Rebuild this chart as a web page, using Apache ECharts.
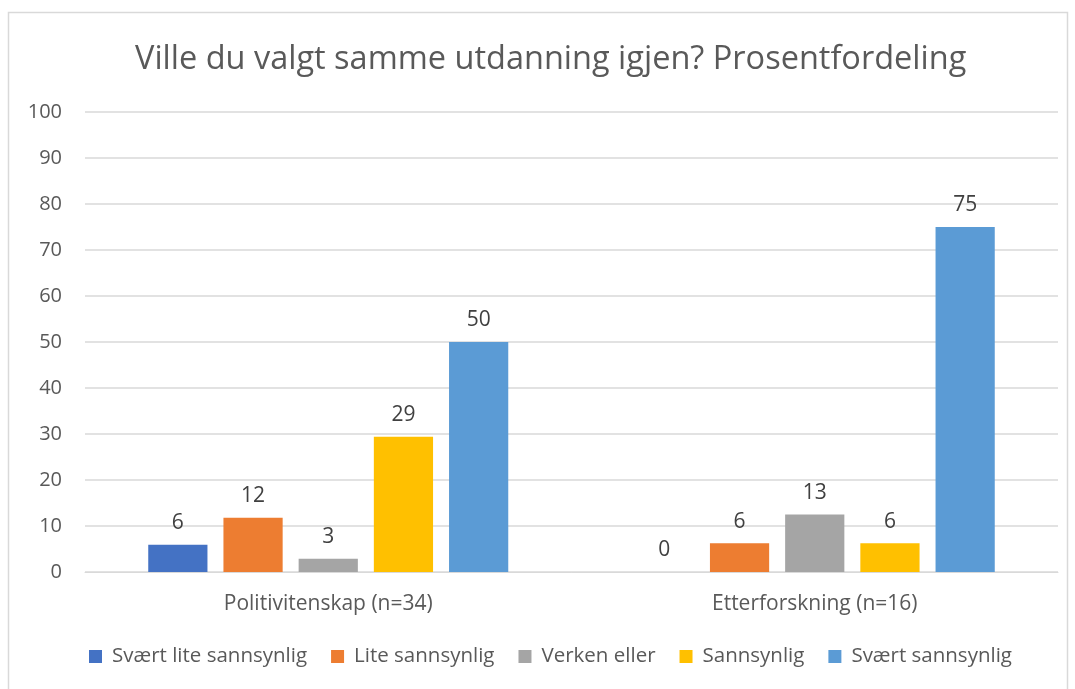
<!DOCTYPE html>
<html>
<head>
<meta charset="utf-8">
<script src="https://cdn.jsdelivr.net/npm/echarts@6/dist/echarts.min.js"></script>
<style>
  html, body { margin: 0; padding: 0; background: #fff; }
  #chart { width: 1075px; height: 689px; }
</style>
</head>
<body>
<div id="chart"></div>
<script>
// data
var categories = ['Politivitenskap (n=34)', 'Etterforskning (n=16)'];
var seriesNames = ['Svært lite sannsynlig', 'Lite sannsynlig', 'Verken eller', 'Sannsynlig', 'Svært sannsynlig'];
var svaertLite = [5.9, 0];
var lite = [11.8, 6.25];
var verken = [2.9, 12.5];
var sannsynlig = [29.4, 6.25];
var svaertSann = [50, 75];
var colors = ['#4472C4', '#ED7D31', '#A5A5A5', '#FFC000', '#5B9BD5'];

var fontFam = '"Open Sans", "Noto Sans", sans-serif';
var values = [svaertLite, lite, verken, sannsynlig, svaertSann];

var series = seriesNames.map(function (name, i) {
  return {
    name: name,
    type: 'bar',
    data: values[i],
    barGap: '27%',
    barCategoryGap: '26%',
    itemStyle: { color: colors[i] },
    label: {
      show: true,
      position: 'top',
      distance: 11,
      color: '#404040',
      fontSize: 21,
      fontFamily: fontFam,
      formatter: function (p) { return Math.round(p.value); }
    }
  };
});

var chart = echarts.init(document.getElementById('chart'));
chart.setOption({
  animation: false,
  color: colors,
  title: {
    text: 'Ville du valgt samme utdanning igjen? Prosentfordeling',
    left: 130,
    top: 38,
    textStyle: { color: '#595959', fontSize: 32.5, fontWeight: 'normal', fontFamily: fontFam }
  },
  legend: {
    bottom: 17,
    left: 84,
    itemWidth: 13,
    itemHeight: 13,
    itemGap: 24,
    icon: 'rect',
    textStyle: { color: '#595959', fontSize: 20.5, fontFamily: fontFam, padding: [0, 0, 0, 5] }
  },
  grid: { left: 85, right: 17, top: 112, bottom: 117, containLabel: false },
  xAxis: {
    type: 'category',
    data: categories,
    axisLine: { lineStyle: { color: '#d9d9d9', width: 1 } },
    axisTick: { show: false },
    axisLabel: { color: '#595959', fontSize: 21, margin: 22, fontFamily: fontFam }
  },
  yAxis: {
    type: 'value',
    min: 0,
    max: 100,
    interval: 10,
    axisLine: { show: false },
    axisTick: { show: false },
    splitLine: { lineStyle: { color: '#d9d9d9', width: 1.5 } },
    axisLabel: { color: '#595959', fontSize: 20, margin: 23, fontFamily: fontFam }
  },
  graphic: [{
    type: 'rect',
    shape: { x: 8.5, y: 12.5, width: 1059, height: 690 },
    style: { fill: null, stroke: '#d9d9d9', lineWidth: 1.5 },
    silent: true
  }],
  series: series
});
</script>
</body>
</html>
